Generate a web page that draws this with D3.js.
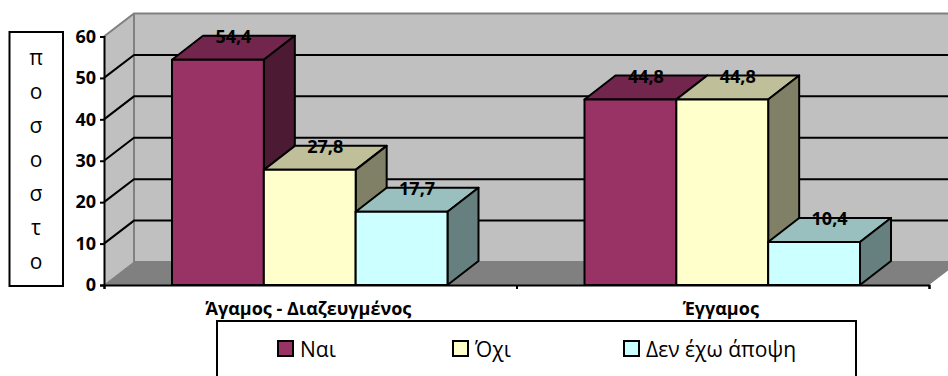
<!DOCTYPE html>
<html><head><meta charset="utf-8">
<script src="https://cdnjs.cloudflare.com/ajax/libs/d3/7.8.5/d3.min.js"></script>
<style>html,body{margin:0;padding:0;background:#fff;overflow:hidden}svg{display:block}
text{font-family:"Open Sans",sans-serif;fill:#000}</style></head><body>
<script>
const categories=["Άγαμος - Διαζευγμένος","Έγγαμος"];
const seriesNames=["Ναι","Όχι","Δεν έχω άποψη"];
const nai=[54.4,44.8];
const ochi=[27.8,44.8];
const denExo=[17.7,10.4];
const colors=["#993366","#ffffcc","#ccffff"];
const yTicks=[0,10,20,30,40,50,60];
const yLabel="ποσοστο";

const W=948,H=376,dx=30,dy=-23,bdx=31,bdy=-24;
const svg=d3.select("body").append("svg").attr("width",W).attr("height",H);
const y=d3.scaleLinear().domain([0,60]).range([285,36.5]);
const x0=d3.scaleBand().domain(categories).range([104,929]);
const x1=d3.scaleBand().domain(seriesNames).range([68,343.5]);
const series=[nai,ochi,denExo];
const path=p=>"M"+p.map(d=>d.join(",")).join("L")+"Z";
const L=x0.range()[0],R=x0.range()[1];

// walls and floor
svg.append("path").attr("d",path([[L+dx,y(60)+dy],[R+dx,y(60)+dy],[R+dx,y(0)+dy],[L+dx,y(0)+dy]])).attr("fill","#c0c0c0");
svg.append("path").attr("d",path([[L,y(60)],[L+dx,y(60)+dy],[L+dx,y(0)+dy],[L,y(0)]])).attr("fill","#c0c0c0");
svg.append("path").attr("d",path([[L,y(0)],[L+dx,y(0)+dy],[R+dx,y(0)+dy],[R,y(0)]])).attr("fill","#808080");
const grey="#808080";
svg.append("path").attr("d",`M${L},${y(60)}L${L+dx},${y(60)+dy}H${R+dx}`).attr("fill","none").attr("stroke",grey).attr("stroke-width",2);
svg.append("path").attr("d",`M${L+dx},${y(60)+dy}V${y(0)+dy}H${R+dx}`).attr("fill","none").attr("stroke",grey).attr("stroke-width",2);
svg.append("path").attr("d",`M${L},${y(0)}L${L+dx},${y(0)+dy}`).attr("stroke",grey).attr("stroke-width",1);
// gridlines
yTicks.filter(t=>t>0&&t<60).forEach(t=>{
  svg.append("path").attr("d",`M${L},${y(t)}L${L+dx},${y(t)+dy}H${R+dx}`).attr("fill","none").attr("stroke","#000").attr("stroke-width",2);
});
// bars
const shade=(c,k)=>{const r=d3.rgb(c);return d3.rgb(r.r*k,r.g*k,r.b*k).formatHex();};
categories.forEach((c,i)=>{
  seriesNames.forEach((s,j)=>{
    const v=series[j][i],xa=x0(c)+x1(s),xb=xa+x1.bandwidth(),yt=y(v),yb=y(0);
    const g=svg.append("g").attr("stroke","#000").attr("stroke-width",2).attr("stroke-linejoin","round");
    g.append("path").attr("d",path([[xa,yt],[xa+bdx,yt+bdy],[xb+bdx,yt+bdy],[xb,yt]])).attr("fill",shade(colors[j],.75));
    g.append("path").attr("d",path([[xb,yt],[xb+bdx,yt+bdy],[xb+bdx,yb+bdy],[xb,yb]])).attr("fill",shade(colors[j],.5));
    g.append("rect").attr("x",xa).attr("y",yt).attr("width",xb-xa).attr("height",yb-yt).attr("fill",colors[j]);
  });
});
// axes
const ay=svg.append("g").attr("transform",`translate(${L},0)`).call(d3.axisLeft(y).tickValues(yTicks).tickSize(4).tickPadding(4));
ay.select(".domain").attr("stroke","#000").attr("stroke-width",2);
ay.selectAll(".tick line").attr("stroke","#000").attr("stroke-width",2);
ay.selectAll("text").style("font-family",'"Open Sans",sans-serif').style("font-size","18px").style("font-weight",700).attr("fill","#000");
const xAxisScale=d3.scalePoint().domain([0,1,2]).range([L,R]);
const ax=svg.append("g").attr("transform",`translate(0,${y(0)})`).call(d3.axisBottom(xAxisScale).tickSize(4).tickFormat(""));
ax.select(".domain").attr("stroke","#000").attr("stroke-width",2);
ax.selectAll(".tick line").attr("stroke","#000").attr("stroke-width",2);
// category labels
svg.selectAll(".cat").data(categories).join("text").attr("class","cat")
 .attr("x",d=>x0(d)+x0.bandwidth()/2-2).attr("y",315).attr("text-anchor","middle")
 .style("font-size","18px").style("font-weight",700).text(d=>d);
// data labels
categories.forEach((c,i)=>seriesNames.forEach((s,j)=>{
  const v=series[j][i];
  svg.append("text").attr("x",x0(c)+x1(s)+x1.bandwidth()/2+bdx/2).attr("y",y(v)+bdy+7.5)
   .attr("text-anchor","middle").style("font-size","18px").style("font-weight",700)
   .text(String(v).replace(".",","));
}));
// y label box
svg.append("rect").attr("x",9.5).attr("y",32).attr("width",53.5).attr("height",254).attr("fill","#fff").attr("stroke","#000").attr("stroke-width",2);
const ly=d3.scalePoint().domain(d3.range(yLabel.length)).range([58,262]);
svg.selectAll(".yl").data(Array.from(yLabel)).join("text").attr("class","yl")
 .attr("x",36).attr("y",(d,i)=>ly(i)).attr("dy","0.35em").attr("text-anchor","middle").style("font-size","21px").text(d=>d);
// legend
svg.append("rect").attr("x",217).attr("y",321).attr("width",639).attr("height",70).attr("fill","#fff").attr("stroke","#000").attr("stroke-width",2);
const legX=d3.scaleOrdinal().domain(seriesNames).range([278,453,624]);
seriesNames.forEach((s,j)=>{
  svg.append("rect").attr("x",legX(s)).attr("y",341).attr("width",15).attr("height",15).attr("fill",colors[j]).attr("stroke","#000").attr("stroke-width",2);
  svg.append("text").attr("x",legX(s)+22).attr("y",357).style("font-size","21px").text(s);
});
</script></body></html>
